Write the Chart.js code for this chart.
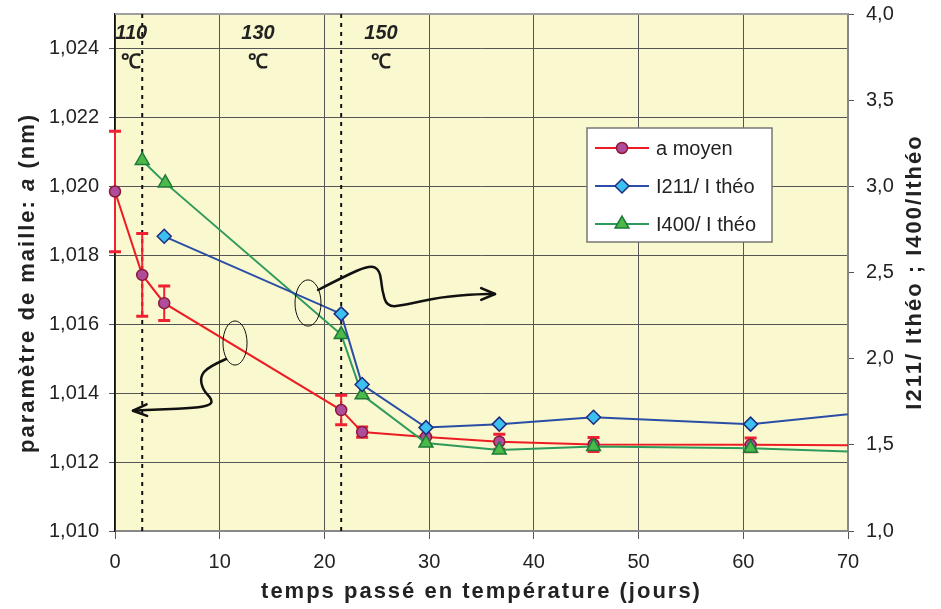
<!DOCTYPE html>
<html>
<head>
<meta charset="utf-8">
<script src="https://cdn.jsdelivr.net/npm/chart.js@4.4.1/dist/chart.umd.min.js"></script>
<style>
  body { margin: 0; background: #fff; }
  canvas { display: block; }
</style>
</head>
<body>
<canvas id="chart" width="941" height="609"></canvas>
<script>
// ---------- DATA ----------
// a moyen (nm), axe de gauche
const daysA = [0, 2.6, 4.7, 21.6, 23.6, 29.7, 36.7, 45.7, 60.7, 80];
const aMoyen = [1.01985, 1.01743, 1.01661, 1.01351, 1.01287, 1.01273, 1.01259, 1.01251, 1.0125, 1.01248];
const aErr = [0.00175, 0.0012, 0.0005, 0.00043, 0.00015, 0.00025, 0.00022, 0.0002, 0.0002, 0];

// rapports d'intensité, axe de droite
const days211 = [4.7, 21.6, 23.6, 29.7, 36.7, 45.7, 60.7, 80];
const i211 = [2.71, 2.26, 1.85, 1.6, 1.62, 1.66, 1.62, 1.74];
const days400 = [2.6, 4.8, 21.6, 23.6, 29.7, 36.7, 45.7, 60.7, 80];
const i400 = [3.15, 3.02, 2.14, 1.79, 1.51, 1.47, 1.49, 1.48, 1.44];

// axes
const xTicks = [0, 10, 20, 30, 40, 50, 60, 70];
const leftTicks = [1.010, 1.012, 1.014, 1.016, 1.018, 1.020, 1.022, 1.024];
const rightTicks = [1.0, 1.5, 2.0, 2.5, 3.0, 3.5, 4.0];

// changements de température (jours) et paliers
const tempChanges = [2.6, 21.6];
const tempLabels = ["110", "130", "150"];
const tempLabelX = [1.55, 13.66, 25.4];

// annotations à la main (x en jours, y en nm)
const arrowLeft = [[10.6, 1.01499], [8.88, 1.014758], [8.12, 1.014468], [8.4, 1.014091], [9.26, 1.013829],
  [9.17, 1.013655], [7.64, 1.013568], [4.3, 1.013525], [1.72, 1.01349]];
const arrowRight = [[19.39, 1.016992], [21.97, 1.017398], [24.36, 1.017717], [25.31, 1.017572], [25.5, 1.016992],
  [25.98, 1.016498], [27.7, 1.016556], [31.04, 1.016789], [34.86, 1.016876], [36.29, 1.016876]];
const ellipses = [[11.46, 1.015454, 1.15, 0.00064], [18.43, 1.016615, 1.24, 0.00067]];

const FONT = '"Liberation Sans", Arial, sans-serif';
const toPts = (xs, ys) => xs.map((x, i) => ({ x, y: ys[i] }));

// ---------- MARKERS ----------
function drawMarker(ctx, style, x, y, r) {
  ctx.beginPath();
  if (style === "circle") {
    ctx.arc(x, y, r, 0, Math.PI * 2);
  } else if (style === "rectRot") {
    ctx.moveTo(x, y - r); ctx.lineTo(x + r, y); ctx.lineTo(x, y + r); ctx.lineTo(x - r, y);
  } else {
    for (let k = 0; k < 3; k++) {
      const a = k * 2 * Math.PI / 3;
      const px = x + Math.sin(a) * r, py = y - Math.cos(a) * r;
      k === 0 ? ctx.moveTo(px, py) : ctx.lineTo(px, py);
    }
  }
  ctx.closePath();
  ctx.fill();
  ctx.stroke();
}

// ---------- PLUGIN ----------
const decor = {
  id: "decor",
  beforeDraw(chart) {
    const { ctx, chartArea: a } = chart;
    ctx.save();
    ctx.fillStyle = "#FAF8CE";
    ctx.fillRect(a.left, a.top, a.right - a.left, a.bottom - a.top);
    ctx.restore();
  },
  beforeDatasetsDraw(chart) {
    const { ctx, chartArea: a, scales } = chart;
    const xs = scales.x, ys = scales.y;
    ctx.save();
    // bord supérieur
    ctx.strokeStyle = "#a0a0a0";
    ctx.lineWidth = 2;
    ctx.beginPath(); ctx.moveTo(a.left, a.top); ctx.lineTo(a.right, a.top); ctx.stroke();

    // lignes pointillées des changements de température
    ctx.strokeStyle = "#111";
    ctx.lineWidth = 2;
    ctx.setLineDash([4, 5]);
    tempChanges.forEach(d => {
      const px = xs.getPixelForValue(d);
      ctx.beginPath(); ctx.moveTo(px, a.top); ctx.lineTo(px, a.bottom); ctx.stroke();
    });
    ctx.setLineDash([]);

    // barres d'erreur
    ctx.strokeStyle = "#EE2233";
    daysA.forEach((d, i) => {
      if (!aErr[i] || d > 70) return;
      const px = xs.getPixelForValue(d);
      const top = ys.getPixelForValue(aMoyen[i] + aErr[i]);
      const bot = ys.getPixelForValue(aMoyen[i] - aErr[i]);
      ctx.lineWidth = 2;
      ctx.beginPath(); ctx.moveTo(px, top); ctx.lineTo(px, bot); ctx.stroke();
      ctx.lineWidth = 3;
      ctx.beginPath();
      ctx.moveTo(px - 6, top); ctx.lineTo(px + 6, top);
      ctx.moveTo(px - 6, bot); ctx.lineTo(px + 6, bot);
      ctx.stroke();
    });
    ctx.restore();
  },
  afterDatasetsDraw(chart) {
    const { ctx, scales } = chart;
    const xs = scales.x, ys = scales.y;
    const P = p => [xs.getPixelForValue(p[0]), ys.getPixelForValue(p[1])];
    ctx.save();

    // paliers de température
    ctx.fillStyle = "#222";
    ctx.textAlign = "center";
    ctx.textBaseline = "middle";
    tempLabels.forEach((t, i) => {
      const px = xs.getPixelForValue(tempLabelX[i]);
      ctx.font = "italic bold 20px " + FONT;
      ctx.fillText(t, px, 33);
      ctx.font = "bold 20px " + FONT;
      ctx.fillText("℃", px, 62);
    });

    // ellipses
    ctx.strokeStyle = "#111";
    ctx.lineWidth = 1;
    ellipses.forEach(e => {
      const [cx, cy] = P(e);
      const rx = Math.abs(xs.getPixelForValue(e[0] + e[2]) - cx);
      const ry = Math.abs(ys.getPixelForValue(e[1] + e[3]) - cy);
      ctx.beginPath(); ctx.ellipse(cx, cy, rx, ry, 0, 0, Math.PI * 2); ctx.stroke();
    });

    // flèches
    ctx.lineWidth = 2.5;
    ctx.lineCap = "round";
    ctx.lineJoin = "round";
    [arrowLeft, arrowRight].forEach(list => {
      const pts = list.map(P);
      ctx.beginPath();
      ctx.moveTo(pts[0][0], pts[0][1]);
      for (let i = 1; i < pts.length - 1; i++) {
        const mx = (pts[i][0] + pts[i + 1][0]) / 2, my = (pts[i][1] + pts[i + 1][1]) / 2;
        ctx.quadraticCurveTo(pts[i][0], pts[i][1], mx, my);
      }
      const tip = pts[pts.length - 1], prev = pts[pts.length - 2];
      ctx.lineTo(tip[0], tip[1]);
      ctx.stroke();
      const ang = Math.atan2(tip[1] - prev[1], tip[0] - prev[0]);
      ctx.beginPath();
      ctx.moveTo(tip[0] - 15 * Math.cos(ang - 0.4), tip[1] - 15 * Math.sin(ang - 0.4));
      ctx.lineTo(tip[0], tip[1]);
      ctx.lineTo(tip[0] - 15 * Math.cos(ang + 0.4), tip[1] - 15 * Math.sin(ang + 0.4));
      ctx.stroke();
    });
    ctx.restore();
  },
  afterDraw(chart) {
    const { ctx, chartArea: a } = chart;
    ctx.save();

    // légende
    const lx = 587, ly = 128, lw = 185, lh = 114;
    ctx.fillStyle = "#fff";
    ctx.fillRect(lx, ly, lw, lh);
    ctx.strokeStyle = "#777";
    ctx.lineWidth = 1.5;
    ctx.strokeRect(lx, ly, lw, lh);
    ctx.font = "20px " + FONT;
    ctx.textBaseline = "middle";
    ctx.textAlign = "left";
    chart.data.datasets.forEach((ds, i) => {
      const y = ly + 20 + i * 38;
      ctx.strokeStyle = ds.borderColor;
      ctx.lineWidth = 2;
      ctx.beginPath(); ctx.moveTo(lx + 8, y); ctx.lineTo(lx + 62, y); ctx.stroke();
      ctx.fillStyle = ds.pointBackgroundColor;
      ctx.strokeStyle = ds.pointBorderColor;
      ctx.lineWidth = ds.pointBorderWidth;
      drawMarker(ctx, ds.pointStyle, lx + 35, y, ds.pointRadius);
      ctx.fillStyle = "#222";
      ctx.fillText(ds.label, lx + 69, y + 1);
    });

    // titres des axes
    ctx.fillStyle = "#222";
    ctx.letterSpacing = "2px";
    ctx.font = "bold 22px " + FONT;
    ctx.textAlign = "center";
    ctx.textBaseline = "alphabetic";
    ctx.fillText("temps passé en température (jours)", (a.left + a.right) / 2, 598);

    // titre gauche avec "a" en italique
    ctx.save();
    ctx.translate(28, 283);
    ctx.rotate(-Math.PI / 2);
    ctx.textBaseline = "middle";
    ctx.textAlign = "left";
    const parts = [["paramètre de maille: ", "bold"], ["a", "italic bold"], [" (nm)", "bold"]];
    let total = 0;
    parts.forEach(p => { ctx.font = p[1] + " 22px " + FONT; total += ctx.measureText(p[0]).width; });
    let x0 = -total / 2;
    parts.forEach(p => {
      ctx.font = p[1] + " 22px " + FONT;
      ctx.fillText(p[0], x0, 0);
      x0 += ctx.measureText(p[0]).width;
    });
    ctx.restore();

    // titre droit
    ctx.save();
    ctx.translate(915, 272);
    ctx.rotate(-Math.PI / 2);
    ctx.font = "bold 22px " + FONT;
    ctx.textAlign = "center";
    ctx.textBaseline = "middle";
    ctx.fillText("I211/ Ithéo ; I400/Ithéo", 0, 0);
    ctx.restore();

    ctx.restore();
  }
};

// ---------- CHART ----------
const clipArea = { left: 12, top: 12, right: 0, bottom: 12 };

new Chart(document.getElementById("chart"), {
  type: "line",
  data: {
    datasets: [
      {
        label: "a moyen",
        data: toPts(daysA, aMoyen),
        yAxisID: "y",
        borderColor: "#ED1C24",
        borderWidth: 2,
        pointStyle: "circle",
        pointRadius: 5.5,
        pointBackgroundColor: "#B04C9C",
        pointBorderColor: "#8B1A3A",
        pointBorderWidth: 1.5,
        clip: clipArea,
        order: 3,
      },
      {
        label: "I211/ I théo",
        data: toPts(days211, i211),
        yAxisID: "y1",
        borderColor: "#2A4EA6",
        borderWidth: 2,
        pointStyle: "rectRot",
        pointRadius: 7,
        pointBackgroundColor: "#3CC0F0",
        pointBorderColor: "#1F2C7F",
        pointBorderWidth: 1.5,
        clip: clipArea,
        order: 1,
      },
      {
        label: "I400/ I théo",
        data: toPts(days400, i400),
        yAxisID: "y1",
        borderColor: "#2E9A5B",
        borderWidth: 2,
        pointStyle: "triangle",
        pointRadius: 8,
        pointBackgroundColor: "#4BB848",
        pointBorderColor: "#1D7A3A",
        pointBorderWidth: 1.5,
        clip: clipArea,
        order: 2,
      },
    ],
  },
  options: {
    responsive: false,
    animation: false,
    layout: { padding: { top: 14, left: 0, right: 0, bottom: 0 } },
    plugins: { legend: { display: false }, tooltip: { enabled: false } },
    scales: {
      x: {
        type: "linear",
        min: 0,
        max: 70,
        afterBuildTicks: s => { s.ticks = xTicks.map(v => ({ value: v })); },
        afterFit: s => { s.height = 78; s.paddingLeft = 0; s.paddingRight = 0; },
        ticks: { color: "#222", font: { size: 20, family: FONT }, padding: 11 },
        grid: { color: "#555", lineWidth: 1, tickLength: 8, tickColor: "#555" },
        border: { color: "#888", width: 2 },
      },
      y: {
        position: "left",
        min: 1.010,
        max: 1.025,
        afterBuildTicks: s => { s.ticks = leftTicks.map(v => ({ value: v })); },
        afterFit: s => { s.width = 115; s.paddingTop = 0; s.paddingBottom = 0; },
        ticks: {
          color: "#222",
          font: { size: 20, family: FONT },
          padding: 10,
          callback: v => v.toFixed(3).replace(".", ","),
        },
        grid: { color: "#555", lineWidth: 1, tickLength: 6, tickColor: "#555" },
        border: { color: "#111", width: 1.5 },
      },
      y1: {
        position: "right",
        min: 1,
        max: 4,
        afterBuildTicks: s => { s.ticks = rightTicks.map(v => ({ value: v })); },
        afterFit: s => { s.width = 93; s.paddingTop = 0; s.paddingBottom = 0; },
        ticks: {
          color: "#222",
          font: { size: 20, family: FONT },
          padding: 12,
          callback: v => v.toFixed(1).replace(".", ","),
        },
        grid: { drawOnChartArea: false, tickLength: 6, tickColor: "#555" },
        border: { color: "#888", width: 2 },
      },
    },
  },
  plugins: [decor],
});
</script>
</body>
</html>
